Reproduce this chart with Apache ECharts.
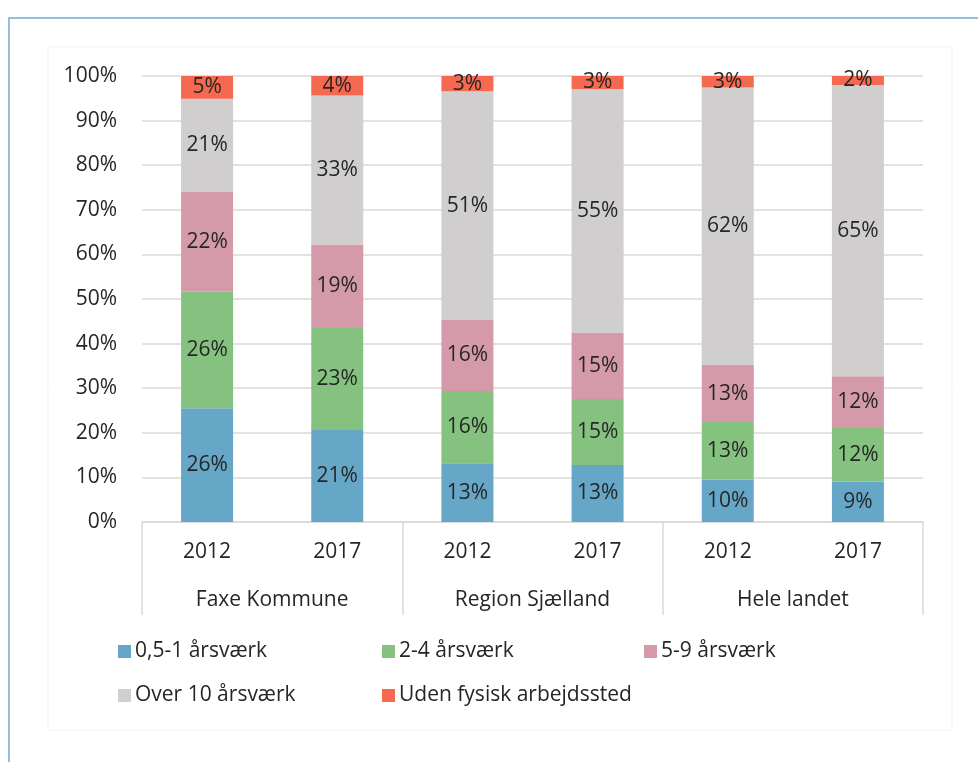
<!DOCTYPE html>
<html>
<head>
<meta charset="utf-8">
<script src="https://cdn.jsdelivr.net/npm/echarts@6/dist/echarts.min.js"></script>
<style>
  html, body { margin: 0; padding: 0; background: #fff; }
  #chart { width: 978px; height: 762px; }
</style>
</head>
<body>
<div id="chart"></div>
<script>
const years = ['2012', '2017', '2012', '2017', '2012', '2017']
const groups = ['Faxe Kommune', 'Region Sjælland', 'Hele landet']
const yTicks = [0, 10, 20, 30, 40, 50, 60, 70, 80, 90, 100]

const small = [25.5, 20.6, 13.2, 12.8, 9.5, 9.0]      // 0,5-1 årsværk
const mid = [26.1, 22.9, 16.2, 14.8, 12.9, 12.1]      // 2-4 årsværk
const large = [22.4, 18.7, 15.9, 14.8, 12.8, 11.6]    // 5-9 årsværk
const over10 = [20.9, 33.4, 51.3, 54.7, 62.2, 65.3]   // Over 10 årsværk
const noSite = [5.1, 4.4, 3.4, 2.9, 2.6, 2.0]         // Uden fysisk arbejdssted

const seriesNames = ['0,5-1 årsværk', '2-4 årsværk', '5-9 årsværk', 'Over 10 årsværk', 'Uden fysisk arbejdssted']
const seriesData = [small, mid, large, over10, noSite]
const colors = ['#66a7c8', '#86c27f', '#d59aa9', '#d0cece', '#f4694f']

const font = 'Open Sans'
const textColor = '#262626'
const fs = 21

const chart = echarts.init(document.getElementById('chart'))

const legendPos = [
    { left: 113, top: 636 },
    { left: 377, top: 636 },
    { left: 639, top: 636 },
    { left: 113, top: 680 },
    { left: 377, top: 680 },
]

chart.setOption({
    backgroundColor: '#fff',
    animation: false,
    textStyle: { fontFamily: font },
    color: colors,
    graphic: [
        {
            type: 'rect',
            shape: { x: 9, y: 18, width: 1100, height: 900 },
            style: { fill: 'none', stroke: '#74acce', lineWidth: 1.5 },
            silent: true,
        },
        {
            type: 'rect',
            shape: { x: 48, y: 47, width: 904, height: 683 },
            style: { fill: 'none', stroke: '#f3f3f3', lineWidth: 1 },
            silent: true,
        },
    ],
    legend: seriesNames.map((name, i) => ({
        data: [name],
        left: legendPos[i].left,
        top: legendPos[i].top,
        itemWidth: 13,
        itemHeight: 13,
        itemGap: 5,
        icon: 'rect',
        selectedMode: false,
        textStyle: { fontFamily: font, fontSize: fs, color: textColor, padding: [0, 0, 0, -1] },
    })),
    grid: {
        left: 142,
        right: 55,
        top: 76,
        bottom: 240,
        containLabel: false,
    },
    xAxis: [
        {
            type: 'category',
            data: years,
            position: 'bottom',
            axisLine: { show: true, lineStyle: { color: '#d9d9d9', width: 1.5 } },
            axisTick: { show: false },
            axisLabel: { fontFamily: font, fontSize: fs, color: textColor, margin: 20, interval: 0 },
        },
        {
            type: 'category',
            data: groups,
            position: 'bottom',
            axisLine: { show: false },
            axisTick: {
                show: true,
                alignWithLabel: false,
                interval: 0,
                length: 93,
                lineStyle: { color: '#d9d9d9', width: 1.5 },
            },
            axisLabel: { fontFamily: font, fontSize: fs, color: textColor, margin: 68, interval: 0 },
        },
    ],
    yAxis: {
        type: 'value',
        min: yTicks[0],
        max: yTicks[yTicks.length - 1],
        interval: 10,
        axisLine: { show: false },
        axisTick: { show: false },
        axisLabel: {
            fontFamily: font,
            fontSize: fs,
            color: textColor,
            margin: 25,
            formatter: (v) => v + '%',
        },
        splitLine: { lineStyle: { color: '#d9d9d9', width: 1.5 } },
    },
    series: seriesData.map((d, i) => ({
        name: seriesNames[i],
        type: 'bar',
        stack: 'total',
        xAxisIndex: 0,
        barWidth: 52,
        data: d,
        itemStyle: { color: colors[i] },
        label: {
            show: true,
            position: 'inside',
            fontFamily: font,
            fontSize: fs,
            color: textColor,
            formatter: (p) => Math.round(p.value) + '%',
        },
    })),
})
</script>
</body>
</html>
